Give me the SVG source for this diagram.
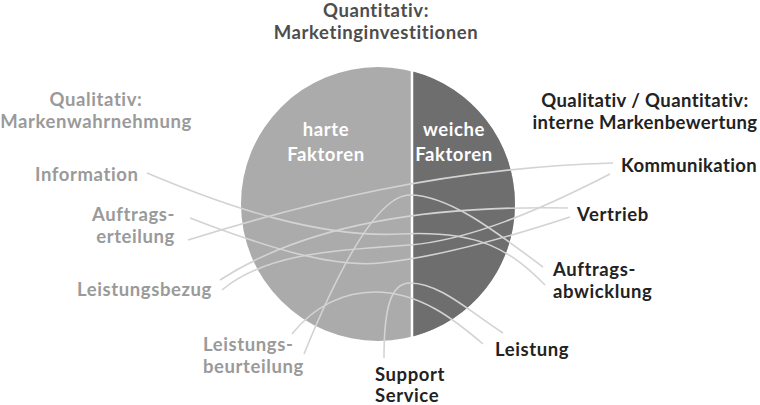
<svg xmlns="http://www.w3.org/2000/svg" width="760" height="405" viewBox="0 0 760 405">
<style>
text{font-family:Lato,"Open Sans","Liberation Sans",sans-serif;font-weight:700;font-size:18.5px;letter-spacing:0.6px;font-variant-ligatures:none}
.lt{fill:#9a9a9a}
.dk{fill:#222}
.md{fill:#4d4d4d}
.wh{fill:#fff}
.c{text-anchor:middle}
.e{text-anchor:end}
.n{letter-spacing:0.4px}
.ln{fill:none;stroke:#d3d3d3;stroke-width:1.6}
</style>
<rect width="760" height="405" fill="#fff"/>
<g id="pie">
<circle cx="378" cy="204" r="137" fill="#ababab"/>
<path d="M412,71.3 A137,137 0 0,1 412,336.7 Z" fill="#6e6e6e"/>
<line x1="412" y1="70" x2="412" y2="338" stroke="#fff" stroke-width="2.5"/>
</g>
<g id="connectors">
<path class="ln" d="M188,240 C300,205 440,168 613,163"/>
<path class="ln" d="M147,173 C230,208 320,238 400,234 S510,250 545,285"/>
<path class="ln" d="M190,218 C260,245 330,268 380,263 S500,240 570,217"/>
<path class="ln" d="M220,280 C300,228 420,205 568,208"/>
<path class="ln" d="M222,290 C270,250 350,250 410,245 S540,210 610,174"/>
<path class="ln" d="M304,354 C328,295 372,195 410,195 C450,195 500,235 543,267"/>
<path class="ln" d="M292,334 C315,305 345,292 375,292 C420,292 455,320 483,344"/>
<path class="ln" d="M384,358 C384,310 390,283 410,283 C440,283 470,312 503,333"/>
</g>
<g id="pie-labels">
<text class="wh c" x="326" y="136">harte</text>
<text class="wh c" x="326" y="161">Faktoren</text>
<text class="wh c" x="454" y="136">weiche</text>
<text class="wh c" x="454" y="161">Faktoren</text>
</g>
<g id="top"><text class="md c" x="376" y="17">Quantitativ:</text><text class="md c" x="376" y="39">Marketinginvestitionen</text></g>
<g id="left-top"><text class="lt c" x="96" y="106">Qualitativ:</text><text class="lt c" x="96" y="128">Markenwahrnehmung</text></g>
<g id="right-top"><text class="dk c n" x="645" y="107">Qualitativ / Quantitativ:</text><text class="dk c n" x="645" y="129">interne Markenbewertung</text></g>
<g id="information"><text class="lt" x="35" y="181">Information</text></g>
<g id="auftragserteilung"><text class="lt e" x="175" y="221">Auftrags-</text><text class="lt e" x="175" y="243">erteilung</text></g>
<g id="leistungsbezug"><text class="lt" x="77" y="296">Leistungsbezug</text></g>
<g id="leistungsbeurteilung"><text class="lt" x="203" y="351">Leistungs-</text><text class="lt" x="203" y="373">beurteilung</text></g>
<g id="kommunikation"><text class="dk n" x="621" y="172">Kommunikation</text></g>
<g id="vertrieb"><text class="dk" x="577" y="221">Vertrieb</text></g>
<g id="auftragsabwicklung"><text class="dk" x="553" y="276">Auftrags-</text><text class="dk" x="553" y="298">abwicklung</text></g>
<g id="leistung"><text class="dk" x="495" y="356">Leistung</text></g>
<g id="support"><text class="dk" x="375" y="381">Support</text><text class="dk" x="375" y="402">Service</text></g>
</svg>
